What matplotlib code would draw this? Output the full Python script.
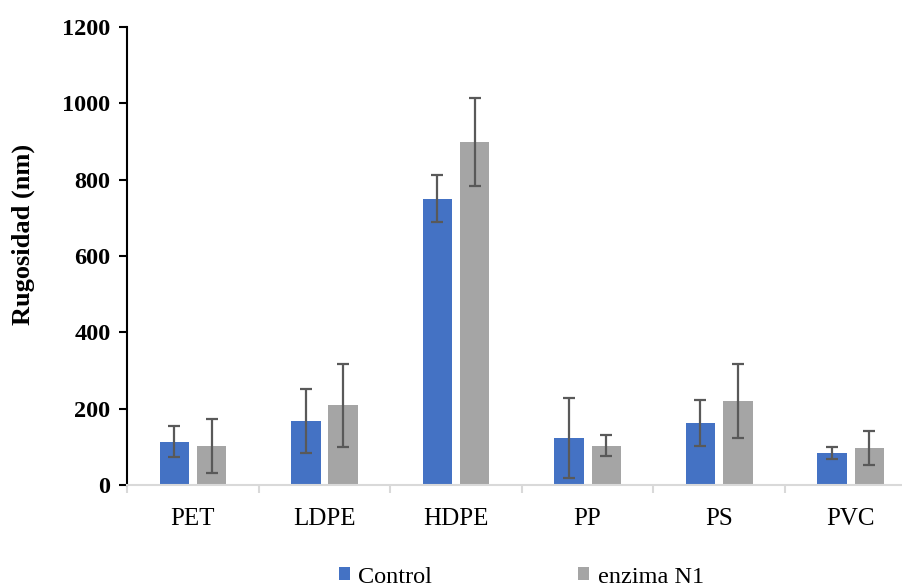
import matplotlib.pyplot as plt
from matplotlib.patches import Patch
import numpy as np

plt.rcParams['font.family'] = ['Liberation Serif', 'DejaVu Serif']

categories = ["PET", "LDPE", "HDPE", "PP", "PS", "PVC"]
control = [113, 168, 750, 122, 162, 84]
control_err = [40, 84, 61, 105, 60, 15]
enzima = [101, 208, 898, 103, 220, 97]
enzima_err = [71, 108, 115, 27, 97, 44]
yticks = [0, 200, 400, 600, 800, 1000, 1200]

blue = "#4472C4"
gray = "#A5A5A5"
errc = "#595959"

fig = plt.figure(figsize=(9.02, 5.87), dpi=100)
ax = fig.add_axes([0.141, 0.174, 0.875, 0.78])

x = np.arange(len(categories))
w = 0.224
off = 0.142
ek = dict(ecolor=errc, elinewidth=1.6, capsize=4.3, capthick=1.6)
ax.bar(x - off, control, w, color=blue, yerr=control_err, error_kw=ek, label="Control")
ax.bar(x + off, enzima, w, color=gray, yerr=enzima_err, error_kw=ek, label="enzima N1")

ax.set_xlim(-0.5, len(categories) - 0.5)
ax.set_ylim(0, 1200)
ax.set_yticks(yticks)
ax.set_yticklabels([str(t) for t in yticks], fontsize=17.5, fontweight="bold")
ax.set_xticks(x)
ax.set_xticklabels(categories, fontsize=18)
ax.set_xticks(np.arange(-0.5, len(categories), 1), minor=True)
ax.tick_params(axis="x", which="major", length=0, pad=17)
ax.tick_params(axis="x", which="minor", length=6, width=1.5, color="#D9D9D9")
ax.tick_params(axis="y", length=6, width=1.5, pad=6)

for s in ["top", "right"]:
    ax.spines[s].set_visible(False)
ax.spines["left"].set_linewidth(1.5)
ax.spines["bottom"].set_color("#D9D9D9")
ax.spines["bottom"].set_linewidth(1.5)

ax.set_ylabel("Rugosidad (nm)", fontsize=19, fontweight="bold")
ax.yaxis.set_label_coords(-0.117, 0.546)

handles = [Patch(facecolor=blue, label="Control"), Patch(facecolor=gray, label="enzima N1")]
fig.legend(handles=handles, loc="center", bbox_to_anchor=(0.578, 0.017), ncol=2, frameon=False,
           fontsize=17.5, handlelength=0.45, handleheight=0.45, handletextpad=0.35, columnspacing=6.0)

fig.savefig("out.png", dpi=100)
